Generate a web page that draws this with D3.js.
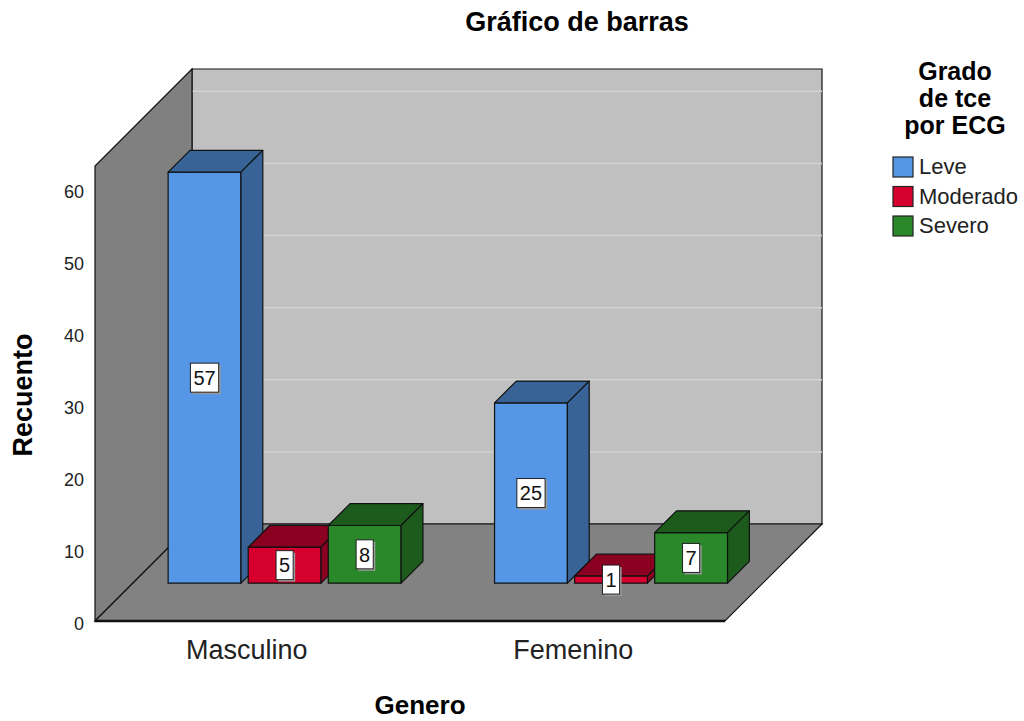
<!DOCTYPE html>
<html>
<head>
<meta charset="utf-8">
<script src="https://cdn.jsdelivr.net/npm/d3@7"></script>
<style>
  body { margin: 0; background: #fff; }
  svg { display: block; font-family: "Liberation Sans", Arial, sans-serif; }
</style>
</head>
<body>
<div id="chart"></div>
<script>
// data
var categories = ["Masculino", "Femenino"];
var series = ["Leve", "Moderado", "Severo"];
var leve = [57, 25];
var moderado = [5, 1];
var severo = [8, 7];
var yTicks = [0, 10, 20, 30, 40, 50, 60];
var legendTitle = ["Grado", "de tce", "por ECG"];

var frontColors = ["#5596e6", "#d5002e", "#2a872a"];
var darkColors = ["#376396", "#8a0021", "#1d5b1d"];

var width = 1024, height = 721;
var svg = d3.select("#chart").append("svg")
  .attr("width", width).attr("height", height);

// front plane scales, depth goes up-right
var x = d3.scalePoint().domain(categories).range([95, 725]).padding(0.465);
var xs = d3.scaleBand().domain(series).range([-116.5, 116.5]).paddingInner(0.09);
var y = d3.scaleLinear().domain([0, 63.1]).range([621, 166]);
var z = d3.scaleLinear().domain([0, 1]).range([0, 97]);

function P(px, v, d) { return [px + z(d), y(v) - z(d)]; }
function poly(pts) { return pts.map(function(p) { return p.join(","); }).join(" "); }

var xl = x.range()[0], xr = x.range()[1], yMax = y.domain()[1];

// walls
svg.append("polygon")
  .attr("points", poly([P(xl, yMax, 1), P(xr, yMax, 1), P(xr, 0, 1), P(xl, 0, 1)]))
  .attr("fill", "#c0c0c0").attr("stroke", "#111").attr("stroke-width", 1.2);

svg.selectAll(".grid").data(yTicks.slice(1)).enter().append("line")
  .attr("class", "grid")
  .attr("x1", function(t) { return P(xl, t, 1)[0]; })
  .attr("y1", function(t) { return P(xl, t, 1)[1]; })
  .attr("x2", function(t) { return P(xr, t, 1)[0]; })
  .attr("y2", function(t) { return P(xr, t, 1)[1]; })
  .attr("stroke", "#d2d2d2").attr("stroke-width", 1.5);

svg.append("polygon")
  .attr("points", poly([P(xl, 0, 0), P(xl, yMax, 0), P(xl, yMax, 1), P(xl, 0, 1)]))
  .attr("fill", "#808080").attr("stroke", "#111").attr("stroke-width", 1.2);

svg.append("polygon")
  .attr("points", poly([P(xl, 0, 0), P(xr, 0, 0), P(xr, 0, 1), P(xl, 0, 1)]))
  .attr("fill", "#828282").attr("stroke", "#111").attr("stroke-width", 1.2);

svg.append("line")
  .attr("x1", xl).attr("y1", y(0)).attr("x2", xr).attr("y2", y(0))
  .attr("stroke", "#111").attr("stroke-width", 2.5);

// bars
var values = [leve, moderado, severo];
var bars = [];
categories.forEach(function(c, i) {
  series.forEach(function(s, j) {
    bars.push({cat: c, ser: s, j: j, v: values[j][i]});
  });
});

var zf = 0.39, zb = 0.615;
var g = svg.append("g").attr("stroke", "#111").attr("stroke-width", 1.2).attr("stroke-linejoin", "round");
bars.forEach(function(b) {
  var a = x(b.cat) + xs(b.ser), e = a + xs.bandwidth();
  g.append("polygon")
    .attr("points", poly([P(a, b.v, zf), P(e, b.v, zf), P(e, 0, zf), P(a, 0, zf)]))
    .attr("fill", frontColors[b.j]);
  g.append("polygon")
    .attr("points", poly([P(a, b.v, zf), P(e, b.v, zf), P(e, b.v, zb), P(a, b.v, zb)]))
    .attr("fill", darkColors[b.j]);
  g.append("polygon")
    .attr("points", poly([P(e, b.v, zf), P(e, 0, zf), P(e, 0, zb), P(e, b.v, zb)]))
    .attr("fill", darkColors[b.j]);
});

// value labels
bars.forEach(function(b) {
  var a = x(b.cat) + xs(b.ser);
  var p = P(a + xs.bandwidth() / 2, b.v / 2, zf);
  var lg = svg.append("g").attr("transform", "translate(" + p[0] + "," + p[1] + ")");
  var t = lg.append("text").text(b.v)
    .attr("text-anchor", "middle").attr("dy", "0.36em")
    .attr("font-size", 20).attr("fill", "#111");
  var w = t.node().getComputedTextLength() + 6, h = 29;
  lg.insert("rect", "text")
    .attr("x", -w / 2 + 2).attr("y", -h / 2 + 2).attr("width", w).attr("height", h)
    .attr("fill", "#9a9a9a");
  lg.insert("rect", "text")
    .attr("x", -w / 2).attr("y", -h / 2).attr("width", w).attr("height", h)
    .attr("fill", "#fff").attr("stroke", "#222").attr("stroke-width", 1);
});

// y tick labels
svg.selectAll(".ytick").data(yTicks).enter().append("text")
  .attr("class", "ytick")
  .attr("x", 84).attr("y", function(t) { return y(t) + 3; })
  .attr("dy", "0.36em").attr("text-anchor", "end")
  .attr("font-size", 18).attr("fill", "#222")
  .text(function(t) { return t; });

// category labels
svg.selectAll(".xlab").data(categories).enter().append("text")
  .attr("class", "xlab")
  .attr("x", function(c) { return x(c); }).attr("y", 659)
  .attr("text-anchor", "middle").attr("font-size", 27).attr("fill", "#222")
  .text(function(c) { return c; });

// titles
svg.append("text").attr("x", 577).attr("y", 31).attr("text-anchor", "middle")
  .attr("font-size", 27).attr("font-weight", "bold").text("Gráfico de barras");

svg.append("text").attr("x", 420).attr("y", 714).attr("text-anchor", "middle")
  .attr("font-size", 26).attr("font-weight", "bold").text("Genero");

svg.append("text").attr("transform", "translate(32,395) rotate(-90)")
  .attr("text-anchor", "middle")
  .attr("font-size", 27).attr("font-weight", "bold").text("Recuento");

// legend
svg.selectAll(".ltitle").data(legendTitle).enter().append("text")
  .attr("class", "ltitle")
  .attr("x", 955).attr("y", function(d, i) { return 80 + i * 27; })
  .attr("text-anchor", "middle").attr("font-size", 25).attr("font-weight", "bold")
  .text(function(d) { return d; });

var legend = svg.selectAll(".leg").data(series).enter().append("g")
  .attr("class", "leg")
  .attr("transform", function(d, i) { return "translate(893," + (157 + i * 29.5) + ")"; });
legend.append("rect").attr("width", 20).attr("height", 20)
  .attr("fill", function(d, i) { return frontColors[i]; })
  .attr("stroke", "#222").attr("stroke-width", 1.2);
legend.append("text").attr("x", 26).attr("y", 17)
  .attr("font-size", 22).attr("fill", "#222")
  .text(function(d) { return d; });
</script>
</body>
</html>
